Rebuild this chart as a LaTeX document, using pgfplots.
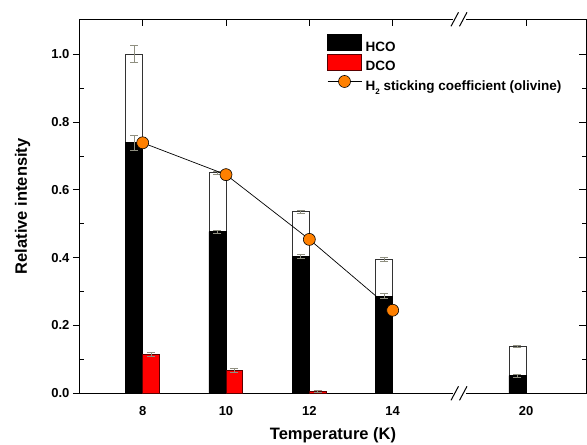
\documentclass[border=0pt]{standalone}
\usepackage{pgfplots}
\usepackage{pgfplotstable}
\pgfplotsset{compat=1.18}
\usepackage{fontspec}
\setmainfont{Liberation Sans}
\definecolor{errgray}{HTML}{8F8F80}
\definecolor{dorange}{HTML}{FF8000}
\definecolor{dcored}{HTML}{FF0000}
\definecolor{dcoedge}{HTML}{5A0000}

% x positions: 8K->0, 10K->1, 12K->2, 14K->3, 20K->4.6 (broken axis)
\pgfplotstableread{
x y e
0 1.000 0.025
1 0.651 0.004
2 0.536 0.004
3 0.395 0.005
4.6 0.139 0.003
}\opentbl
\pgfplotstableread{
x y e
0 0.739 0.023
1 0.477 0.005
2 0.403 0.006
3 0.287 0.007
4.6 0.052 0.005
}\hcotbl
\pgfplotstableread{
x y e
0 0.115 0.007
1 0.068 0.005
2 0.006 0.002
}\dcotbl
\pgfplotstableread{
x y
0 0.739
1 0.645
2 0.454
3 0.245
}\sticktbl

\pgfplotsset{
  common/.style={
    scale only axis, width=506bp, height=374bp,
    xmin=-0.752, xmax=5.32, ymin=0, ymax=1.1033,
    axis line style={line width=1bp},
    every tick/.style={black, line width=1bp},
  },
  tickfont/.style={font=\bfseries\fontsize{13bp}{13bp}\selectfont},
  rectlegend/.style={legend image code/.code={\draw[#1] (0bp,-3.5bp) rectangle (34bp,12.5bp);}},
  linelegend/.style={legend image code/.code={\path[draw=none,fill=none] (0bp,-3.5bp) rectangle (34bp,12.5bp);\draw[mark repeat=2, mark phase=2, #1] plot coordinates {(0bp,4.5bp) (17bp,4.5bp) (34bp,4.5bp)};}},
  errstyle/.style={draw=none, mark=none, forget plot,
    error bars/.cd, y dir=both, y explicit,
    error bar style={errgray, line width=0.8bp},
    error mark options={rotate=90, errgray, mark size=4bp, line width=0.8bp}},
}

\begin{document}
\begin{tikzpicture}
\useasboundingbox (-80bp,-51.7bp) rectangle (507bp,393.3bp);

% overlay: right inward ticks
\begin{axis}[common,
  axis line style={draw=none},
  xtick=\empty,
  ytick={0,0.2,0.4,0.6,0.8,1.0}, yticklabels={}, ytick pos=right,
  minor ytick={0.1,0.3,0.5,0.7,0.9},
  tick align=inside, major tick length=7bp, minor tick length=4bp,
]
\end{axis}
% overlay: left inward minor ticks
\begin{axis}[common,
  axis line style={draw=none},
  xtick=\empty,
  ytick={0.1,0.3,0.5,0.7,0.9}, yticklabels={}, ytick pos=left,
  tick align=inside, major tick length=3.5bp,
]
\end{axis}

\begin{axis}[common,
  clip=false,
  xtick={0,1,2,3,4.6}, xticklabels={8,10,12,14,20},
  xtick pos=bottom, major x tick style={draw=none},
  ytick={0,0.2,0.4,0.6,0.8,1.0}, ytick pos=left,
  tick align=outside, major tick length=7bp,
  /pgf/number format/assume math mode=true,
  yticklabel style={tickfont, /pgf/number format/.cd, fixed, fixed zerofill, precision=1},
  xticklabel style={tickfont, yshift=-3bp},
  xlabel={Temperature (K)}, ylabel={Relative intensity},
  every axis x label/.style={at={(rel axis cs:0.5,-0.1115)}, anchor=center,
     font=\bfseries\fontsize{16.5bp}{16.5bp}\selectfont},
  every axis y label/.style={at={(rel axis cs:-0.1136,0.5)}, anchor=center, rotate=90,
     font=\bfseries\fontsize{16.5bp}{16.5bp}\selectfont},
  legend cell align=left,
  legend style={at={(rel axis cs:0.488,0.96)}, anchor=north west, draw=none, fill=none,
     font=\bfseries\fontsize{13.5bp}{13.5bp}\selectfont,
     row sep=0bp, column sep=2.5bp, inner sep=0pt, nodes={inner sep=1.2bp}},
]
% top inward ticks at the category positions
\pgfplotsinvokeforeach{0,1,2,3,4.6}{
  \draw[black, line width=1bp] (axis cs:#1,1.1033) -- ([yshift=-7bp]axis cs:#1,1.1033);
}
% open (total) bars
\addplot[ybar, bar width=0.205, bar shift=-0.1025, fill=white, draw=black!80,
  line width=0.8bp, forget plot]
  table[x=x, y=y]{\opentbl};
% HCO
\addplot[ybar, bar width=0.205, bar shift=-0.1025, fill=black, draw=black,
  line width=0.6bp, rectlegend]
  table[x=x, y=y]{\hcotbl};
\addlegendentry{HCO}
% DCO
\addplot[ybar, bar width=0.2, bar shift=0.1, fill=dcored, draw=dcoedge,
  line width=0.8bp, rectlegend]
  table[x=x, y=y]{\dcotbl};
\addlegendentry{DCO}
% error bars at bar centres
\addplot[errstyle] table[x expr=\thisrow{x}-0.1025, y=y, y error=e]{\opentbl};
\addplot[errstyle] table[x expr=\thisrow{x}-0.1025, y=y, y error=e]{\hcotbl};
\addplot[errstyle] table[x expr=\thisrow{x}+0.1, y=y, y error=e]{\dcotbl};
% H2 sticking coefficient
\addplot[black, line width=0.7bp, mark=*, mark size=6bp,
  mark options={fill=dorange, draw=black, line width=0.6bp}, linelegend]
  table[x=x, y=y]{\sticktbl};
\addlegendentry{H\raisebox{-0.35em}{\fontsize{8bp}{8bp}\selectfont 2} sticking coefficient (olivine)}
\end{axis}

% axis break marks
\fill[white] (372.5bp,371bp) rectangle (386bp,377bp);
\fill[white] (372.5bp,-3bp) rectangle (386bp,3bp);
\draw[black, line width=1bp] (371bp,367bp) -- (378.5bp,381bp) (379.5bp,367bp) -- (387bp,381bp);
\draw[black, line width=1bp] (371bp,-7bp) -- (378.5bp,7bp) (379.5bp,-7bp) -- (387bp,7bp);
\end{tikzpicture}
\end{document}
